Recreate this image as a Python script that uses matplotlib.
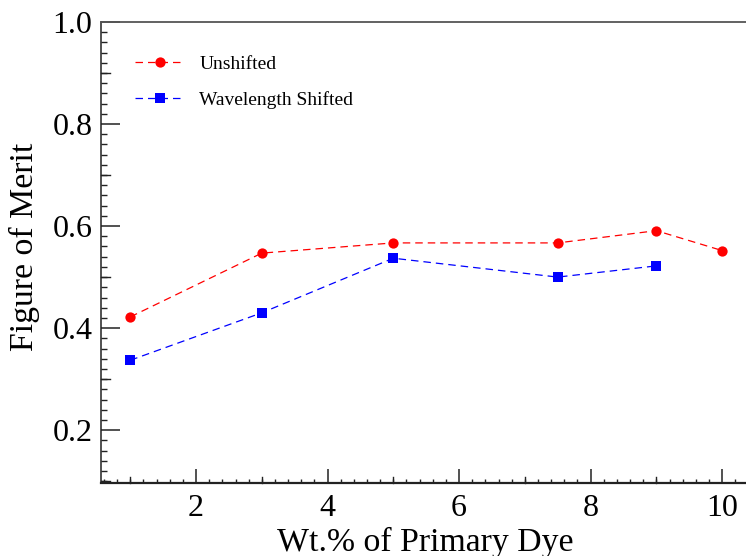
import matplotlib
matplotlib.use("Agg")
import matplotlib.pyplot as plt
from matplotlib.ticker import MultipleLocator

# Figure of merit vs. primary dye concentration
dye_wt_unshifted = [1, 3, 5, 7.5, 9, 10]
fom_unshifted = [0.422, 0.547, 0.567, 0.567, 0.591, 0.552]

dye_wt_shifted = [1, 3, 5, 7.5, 9]
fom_shifted = [0.337, 0.430, 0.537, 0.500, 0.522]

x_ticks = [2, 4, 6, 8, 10]
y_ticks = [0.2, 0.4, 0.6, 0.8, 1.0]

plt.rcParams["font.family"] = ["Liberation Serif", "DejaVu Serif"]

W, H = 746, 556
fig = plt.figure(figsize=(W / 100, H / 100), dpi=100)
left, right, bottom, top = 100.7, 751.7, 482.7, 22.0
ax = fig.add_axes([left / W, (H - bottom) / H, (right - left) / W, (bottom - top) / H])

ax.set_xlim(0.55, 10.45)
ax.set_ylim(0.097, 1.0)

dash = (6, 4)
ax.plot(dye_wt_unshifted, fom_unshifted, color="#ff0000", lw=0.9, dashes=dash,
        marker="o", markersize=7.4, markeredgewidth=0, label="Unshifted")
ax.plot(dye_wt_shifted, fom_shifted, color="#0000ff", lw=0.9, dashes=dash,
        marker="s", markersize=7.0, markeredgewidth=0, label="Wavelength Shifted")

# ROOT-like axes: ticks pointing inward, major / medium / minor ticks
ax.set_xticks(x_ticks)
ax.set_yticks(y_ticks)
ax.set_yticklabels([f"{v:.1f}" for v in y_ticks])
ax.xaxis.set_minor_locator(MultipleLocator(0.2))
ax.yaxis.set_minor_locator(MultipleLocator(0.02))
ax.tick_params(axis="both", which="major", direction="in", labelsize=23, width=1.1,
               color="#222222")
ax.tick_params(axis="x", which="major", length=10, pad=8)
ax.tick_params(axis="y", which="major", length=14, pad=6)
ax.tick_params(axis="both", which="minor", direction="in", width=1.0, color="#222222")
ax.tick_params(axis="x", which="minor", length=3)
ax.tick_params(axis="y", which="minor", length=4)

# medium ticks at odd integers / every 0.1
for xv in [1, 3, 5, 7, 9]:
    ax.plot([xv, xv], [0.097, 0.097 + 5.5 / 510], color="#222222", lw=1.0,
            clip_on=False, zorder=3)
for yv in [0.1, 0.3, 0.5, 0.7, 0.9]:
    ax.plot([0.55, 0.55 + 9.0 / 65.8], [yv, yv], color="#222222", lw=1.0,
            clip_on=False, zorder=3)

ax.spines["right"].set_visible(False)
ax.spines["left"].set_linewidth(1.1)
ax.spines["bottom"].set_linewidth(1.6)
ax.spines["top"].set_linewidth(1.3)
ax.spines["top"].set_color("#555555")
ax.spines["left"].set_color("#222222")
ax.spines["bottom"].set_color("#222222")

ax.set_xlabel("Wt.% of Primary Dye", fontsize=24.3)
ax.set_ylabel("Figure of Merit", fontsize=24.3)
ax.xaxis.set_label_coords(0.499, -0.095)
ax.yaxis.set_label_coords(-0.093, 0.512)

ax.legend(loc="upper left", bbox_to_anchor=(0.041, 0.945), frameon=False,
          fontsize=14, handlelength=2.57, handletextpad=0.72, labelspacing=0.95,
          borderaxespad=0)

fig.savefig("out.png", dpi=100)
